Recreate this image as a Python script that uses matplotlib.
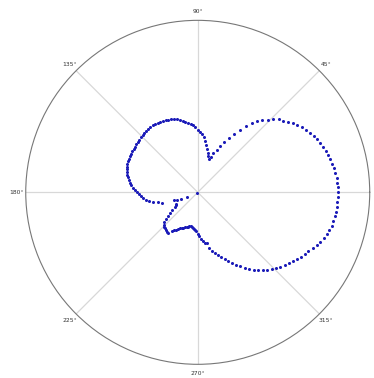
import numpy as np
import matplotlib
matplotlib.use("Agg")
import matplotlib.pyplot as plt

# angle in degrees, radius as fraction of the outer circle
theta_deg = list(range(0, 360, 2))
radius = [
    0.814, 0.814, 0.814, 0.812, 0.808, 0.805, 0.801, 0.795, 0.790, 0.783,   # 0-18
    0.775, 0.766, 0.758, 0.750, 0.738, 0.726, 0.712, 0.697, 0.683, 0.666,   # 20-38
    0.649, 0.633, 0.612, 0.586, 0.562, 0.540, 0.514, 0.474, 0.436, 0.401,   # 40-58
    0.363, 0.330, 0.299, 0.269, 0.244, 0.221, 0.204, 0.221, 0.238, 0.259,   # 60-78
    0.279, 0.302, 0.324, 0.340, 0.352, 0.360, 0.380, 0.390, 0.397, 0.406,   # 80-98
    0.416, 0.423, 0.433, 0.442, 0.448, 0.453, 0.456, 0.458, 0.460, 0.463,   # 100-118
    0.466, 0.468, 0.469, 0.469, 0.468, 0.467, 0.464, 0.462, 0.460, 0.458,   # 120-138
    0.456, 0.453, 0.452, 0.450, 0.449, 0.449, 0.448, 0.446, 0.443, 0.441,   # 140-158
    0.439, 0.434, 0.430, 0.424, 0.417, 0.408, 0.399, 0.388, 0.377, 0.363,   # 160-178
    0.352, 0.343, 0.333, 0.320, 0.305, 0.285, 0.266, 0.241, 0.215, 0.145,   # 180-198
    0.130, 0.105, 0.070, 0.003, 0.140, 0.148, 0.156, 0.180, 0.201, 0.221,   # 200-218
    0.244, 0.262, 0.276, 0.279, 0.283, 0.287, 0.291, 0.293, 0.270, 0.259,   # 220-238
    0.253, 0.243, 0.233, 0.227, 0.221, 0.216, 0.211, 0.207, 0.202, 0.200,   # 240-258
    0.203, 0.208, 0.214, 0.220, 0.227, 0.244, 0.253, 0.270, 0.287, 0.297,   # 260-278
    0.301, 0.328, 0.352, 0.369, 0.384, 0.398, 0.419, 0.437, 0.456, 0.480,   # 280-298
    0.497, 0.517, 0.537, 0.555, 0.572, 0.590, 0.606, 0.620, 0.634, 0.647,   # 300-318
    0.660, 0.672, 0.684, 0.696, 0.707, 0.718, 0.729, 0.744, 0.758, 0.769,   # 320-338
    0.780, 0.789, 0.797, 0.802, 0.807, 0.809, 0.811, 0.812, 0.813, 0.814,   # 340-358
]

# 0° sits past the right edge of the image, so it is left blank
angle_ticks = [0, 45, 90, 135, 180, 225, 270, 315]
angle_labels = ["", "45°", "90°", "135°", "180°", "225°", "270°", "315°"]

fig = plt.figure(figsize=(3.74, 3.78), dpi=100)
ax = fig.add_axes([0.0687, 0.0362, 0.92, 0.910], projection="polar")

ax.plot(np.deg2rad(theta_deg), radius, "o", color="#1a1ab8", markersize=2.2,
        markeredgewidth=0)

ax.set_ylim(0, 1.0)
ax.set_yticks([])
ax.set_thetagrids(angle_ticks, angle_labels, fontsize=4.3, color="#333333")
ax.grid(True, color="#d8d8d8", linewidth=0.9)
ax.spines["polar"].set_color("#777777")
ax.spines["polar"].set_linewidth(0.8)
ax.tick_params(axis="x", pad=-4)

fig.savefig("out.png", dpi=100)
